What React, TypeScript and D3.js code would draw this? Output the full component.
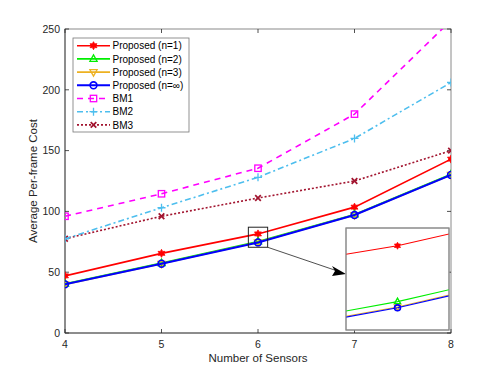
import React from "react";
import * as d3 from "d3";

const sensors = [4, 5, 6, 7, 8];
const proposed1 = [47, 65.5, 81.5, 103.5, 143];
const proposed2 = [40.5, 57.5, 75.2, 97.5, 130.5];
const proposed3 = [40, 57, 74.6, 97, 130];
const proposedInf = [40, 57, 74.5, 97, 130];
const bm1 = [96, 114.5, 135.5, 180, 257];
const bm2 = [77.5, 103, 128, 160, 206];
const bm3 = [77.5, 96, 111, 125, 150];
const xTicks = [4, 5, 6, 7, 8];
const yTicks = [0, 50, 100, 150, 200, 250];

const seriesNames = ["Proposed (n=1)", "Proposed (n=2)", "Proposed (n=3)", "Proposed (n=\u221E)", "BM1", "BM2", "BM3"];
const seriesValues = [proposed1, proposed2, proposed3, proposedInf, bm1, bm2, bm3];
const seriesColors = ["#ff0000", "#00ee00", "#EDB120", "#0000ff", "#ff00ff", "#4DBEEE", "#A2142F"];
const seriesDash = ["", "", "", "", "6,5", "6,3,2,3", "2,2"];
const seriesMarker = ["star", "tri", "tridown", "circle", "square", "plus", "x"];
const seriesWidth = [1.6, 1.6, 1.6, 2, 1.6, 1.6, 1.6];

const zoomX = [5.9, 6.1];
const zoomY = [70.5, 87];
const insetX = [5.94, 6.06];
const insetY = [72, 83.5];

const FONT = "Liberation Sans, Arial, Helvetica, sans-serif";

function Marker({ type, cx, cy, color, s }: { type: string; cx: number; cy: number; color: string; s: number }) {
  const sw = 1.3;
  if (type === "star") {
    const pts: string[] = [];
    for (let i = 0; i < 12; i++) {
      const r = i % 2 === 0 ? s : s * 0.55;
      const a = (Math.PI / 6) * i - Math.PI / 2;
      pts.push(`${cx + r * Math.cos(a)},${cy + r * Math.sin(a)}`);
    }
    return <polygon points={pts.join(" ")} fill={color} stroke={color} strokeWidth={0.8} />;
  }
  if (type === "tri") {
    const p = `${cx},${cy - s} ${cx + s * 0.9},${cy + s * 0.6} ${cx - s * 0.9},${cy + s * 0.6}`;
    return <polygon points={p} fill="none" stroke={color} strokeWidth={sw} />;
  }
  if (type === "tridown") {
    const p = `${cx},${cy + s} ${cx + s * 0.9},${cy - s * 0.6} ${cx - s * 0.9},${cy - s * 0.6}`;
    return <polygon points={p} fill="none" stroke={color} strokeWidth={sw} />;
  }
  if (type === "circle") {
    return <circle cx={cx} cy={cy} r={s * 0.85} fill="none" stroke={color} strokeWidth={sw + 0.3} />;
  }
  if (type === "square") {
    const h = s * 0.8;
    return <rect x={cx - h} y={cy - h} width={2 * h} height={2 * h} fill="none" stroke={color} strokeWidth={sw} />;
  }
  if (type === "plus") {
    return (
      <path d={`M${cx - s},${cy}H${cx + s}M${cx},${cy - s}V${cy + s}`} stroke={color} strokeWidth={sw} fill="none" />
    );
  }
  const h = s * 0.7;
  return (
    <path d={`M${cx - h},${cy - h}L${cx + h},${cy + h}M${cx - h},${cy + h}L${cx + h},${cy - h}`} stroke={color} strokeWidth={sw + 0.4} fill="none" />
  );
}

export default function App() {
  const W = 498, H = 374;
  const left = 65, right = 451, top = 29, bottom = 333;
  const x = d3.scaleLinear().domain([4, 8]).range([left, right]);
  const y = d3.scaleLinear().domain([0, 250]).range([bottom, top]);

  const ix = d3.scaleLinear().domain(insetX).range([346, 449]);
  const iy = d3.scaleLinear().domain(insetY).range([330, 228]);

  const line = d3.line<number>().x((_, i) => x(sensors[i])).y((d) => y(d));
  const iline = d3.line<number>().x((_, i) => ix(sensors[i])).y((d) => iy(d));

  const axisColor = "#262626";
  const boxColor = "#8a8a8a";
  const order = [6, 5, 4, 0, 1, 2, 3];

  const legX = 73, legY = 38, legW = 116, legH = 94;
  const rowH = 13.2;

  const zx0 = x(zoomX[0]), zx1 = x(zoomX[1]);
  const zy0 = y(zoomY[1]), zy1 = y(zoomY[0]);

  return (
    <div style={{ margin: -8 }}>
      <svg width={W} height={H} style={{ display: "block", background: "#fff" }} fontFamily={FONT}>
        <defs>
          <clipPath id="plotClip">
            <rect x={left} y={top} width={right - left} height={bottom - top} />
          </clipPath>
          <clipPath id="insetClip">
            <rect x={346} y={228} width={103} height={102} />
          </clipPath>
        </defs>

        {/* axes box */}
        <rect x={left} y={top} width={right - left} height={bottom - top} fill="#fff" stroke={boxColor} strokeWidth={1} />
        <line x1={left} x2={left} y1={top} y2={bottom} stroke="#555" strokeWidth={1} />
        <line x1={left} x2={right} y1={bottom} y2={bottom} stroke="#555" strokeWidth={1} />

        {/* ticks */}
        {xTicks.map((t) => (
          <g key={"xt" + t}>
            <line x1={x(t)} x2={x(t)} y1={bottom} y2={bottom - 4} stroke={axisColor} strokeWidth={0.8} />
            <line x1={x(t)} x2={x(t)} y1={top} y2={top + 4} stroke={axisColor} strokeWidth={0.8} />
            <text x={x(t)} y={bottom + 15} fontSize={10.5} fill={axisColor} textAnchor="middle">{t}</text>
          </g>
        ))}
        {yTicks.map((t) => (
          <g key={"yt" + t}>
            <line x1={left} x2={left + 4} y1={y(t)} y2={y(t)} stroke={axisColor} strokeWidth={0.8} />
            <line x1={right} x2={right - 4} y1={y(t)} y2={y(t)} stroke={axisColor} strokeWidth={0.8} />
            <text x={left - 5} y={y(t) + 3.8} fontSize={10.5} fill={axisColor} textAnchor="end">{t}</text>
          </g>
        ))}

        <text x={(left + right) / 2} y={362} fontSize={11.5} fill={axisColor} textAnchor="middle">Number of Sensors</text>
        <text transform={`translate(37,${(top + bottom) / 2}) rotate(-90)`} fontSize={11.5} fill={axisColor} textAnchor="middle">
          Average Per-frame Cost
        </text>

        {/* series */}
        <g clipPath="url(#plotClip)">
          {order.map((k) => (
            <g key={"s" + k}>
              <path d={line(seriesValues[k]) || ""} fill="none" stroke={seriesColors[k]} strokeWidth={seriesWidth[k]} strokeDasharray={seriesDash[k]} />
              {seriesValues[k].map((v, i) => (
                <Marker key={i} type={seriesMarker[k]} cx={x(sensors[i])} cy={y(v)} color={seriesColors[k]} s={4} />
              ))}
            </g>
          ))}
        </g>

        {/* zoom rectangle and arrow */}
        <rect x={zx0} y={zy0} width={zx1 - zx0} height={zy1 - zy0} fill="none" stroke="#222" strokeWidth={1} />
        <line x1={zx1} y1={zy1} x2={336} y2={270.5} stroke="#222" strokeWidth={0.8} />
        <polygon points={`346,274 332,266 335,271 332,276`} fill="#000" />

        {/* inset */}
        <rect x={346} y={228} width={103} height={102} fill="#fff" stroke={boxColor} strokeWidth={1} />
        <g clipPath="url(#insetClip)">
          {order.map((k) => (
            <g key={"i" + k}>
              <path d={iline(seriesValues[k]) || ""} fill="none" stroke={seriesColors[k]} strokeWidth={1.1} strokeDasharray={seriesDash[k]} />
              {seriesValues[k].map((v, i) => (
                <Marker key={i} type={seriesMarker[k]} cx={ix(sensors[i])} cy={iy(v)} color={seriesColors[k]} s={3.5} />
              ))}
            </g>
          ))}
        </g>
        <rect x={346} y={228} width={103} height={102} fill="none" stroke={boxColor} strokeWidth={1} />

        {/* legend */}
        <rect x={legX} y={legY} width={legW} height={legH} fill="#fff" stroke="#777" strokeWidth={0.8} />
        {seriesNames.map((name, k) => {
          const cy = legY + 7.7 + k * rowH;
          return (
            <g key={"l" + k}>
              <line x1={77} x2={110} y1={cy} y2={cy} stroke={seriesColors[k]} strokeWidth={seriesWidth[k]} strokeDasharray={seriesDash[k]} />
              <Marker type={seriesMarker[k]} cx={93.5} cy={cy} color={seriesColors[k]} s={4} />
              <text x={112.5} y={cy + 3.6} fontSize={10} fill="#000">{name}</text>
            </g>
          );
        })}
      </svg>
    </div>
  );
}
